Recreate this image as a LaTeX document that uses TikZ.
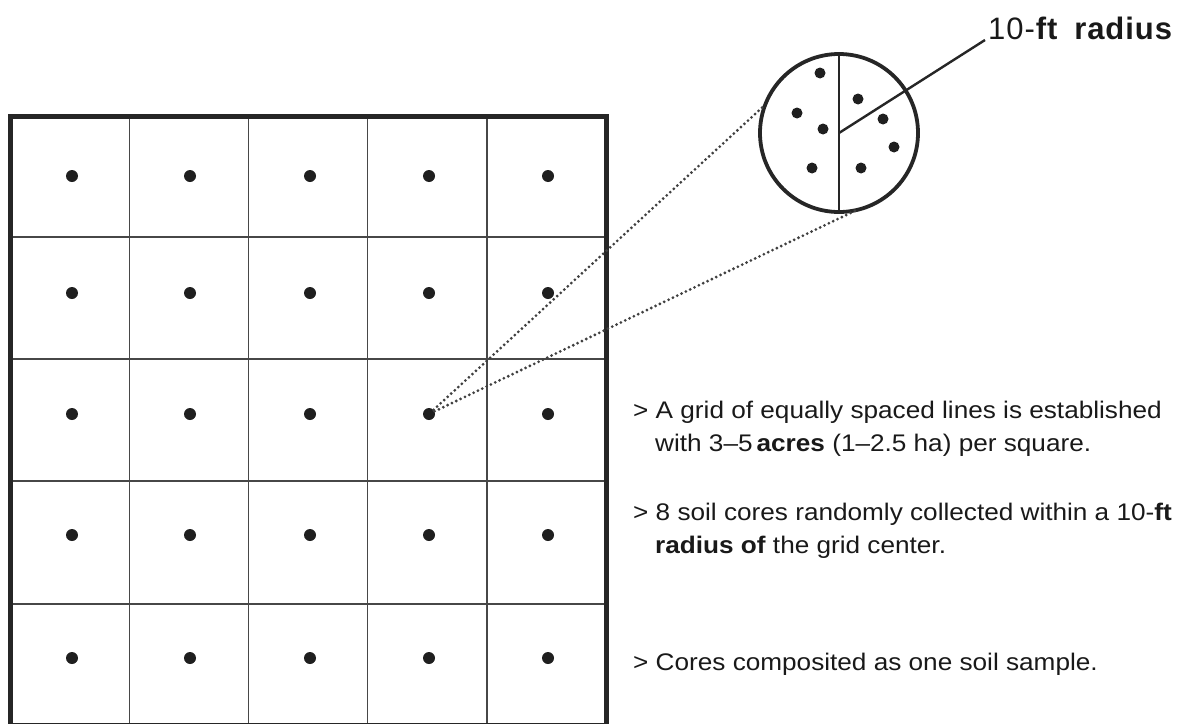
\documentclass[tikz,border=0pt]{standalone}
\usepackage{fontspec}
\setmainfont{Liberation Sans}
\newfontfamily\bodyfont[FakeStretch=1.09]{Liberation Sans}
\newfontfamily\labelfont[LetterSpace=3]{Liberation Sans}
\begin{document}
\begin{tikzpicture}[x=1pt,y=-1pt,
  gridline/.style={line width=1.4pt, draw=black!72},
  border/.style={line width=5pt, draw=black!85},
  gdot/.style={circle, fill=black!88, inner sep=0pt, minimum size=12pt},
  sdot/.style={circle, fill=black!88, inner sep=0pt, minimum size=11pt},
  dots/.style={line width=3.1pt, draw=black!75, line cap=round, dash pattern=on 0pt off 4.8pt},
  txt/.style={anchor=base west, inner sep=0pt, font=\bodyfont\fontsize{24}{28}\selectfont, text=black!90}]
\useasboundingbox (0,0) rectangle (1183,723);
% grid
\foreach \x in {129.2,248.4,367.6,486.8} \draw[gridline] (\x,116) -- (\x,725);
\foreach \y in {237,359,481,604} \draw[gridline] (10,\y) -- (606,\y);
\draw[border] (10,116) rectangle (606,725);
\foreach \x [count=\i] in {72,190,310,429,548}
  \foreach \y [count=\j] in {176,293,414,535,658}
    \node[gdot] (d\i\j) at (\x,\y) {};
% magnified circle
\node[circle, draw=black!85, line width=3.8pt, minimum size=158pt, inner sep=0pt, outer sep=0pt] (circ) at (839,133) {};
\draw[line width=2.2pt, draw=black!85] (circ.north) -- (circ.south);
\coordinate (rend) at (985,40);
\draw[line width=2.4pt, draw=black!85] (circ.center) -- (rend);
\foreach \px/\py [count=\k] in {820/73,797/113,823/129,812/168,858/99,883/119,894/147,861/168}
  \node[sdot] (s\k) at (\px,\py) {};
\draw[dots] (d43) -- (circ.159);
\draw[dots] (d43) -- (circ.-77);
\node[anchor=base west, inner sep=0pt, font=\labelfont\fontsize{31}{35}\selectfont, text=black!90] (lbl) at (988,39) {10-\textbf{ft}\hspace{16pt}\textbf{radius}};
% text
\node[txt] (t1) at (633,418) {> A grid of equally spaced lines is established};
\node[txt] (t2) at (655,451) {with 3–5\,\textbf{acres} (1–2.5 ha) per square.};
\node[txt] (t3) at (633,520) {> 8 soil cores randomly collected within a 10-\textbf{ft}};
\node[txt] (t4) at (655,553) {\textbf{radius of} the grid center.};
\node[txt] (t5) at (633,670) {> Cores composited as one soil sample.};
\end{tikzpicture}
\end{document}
